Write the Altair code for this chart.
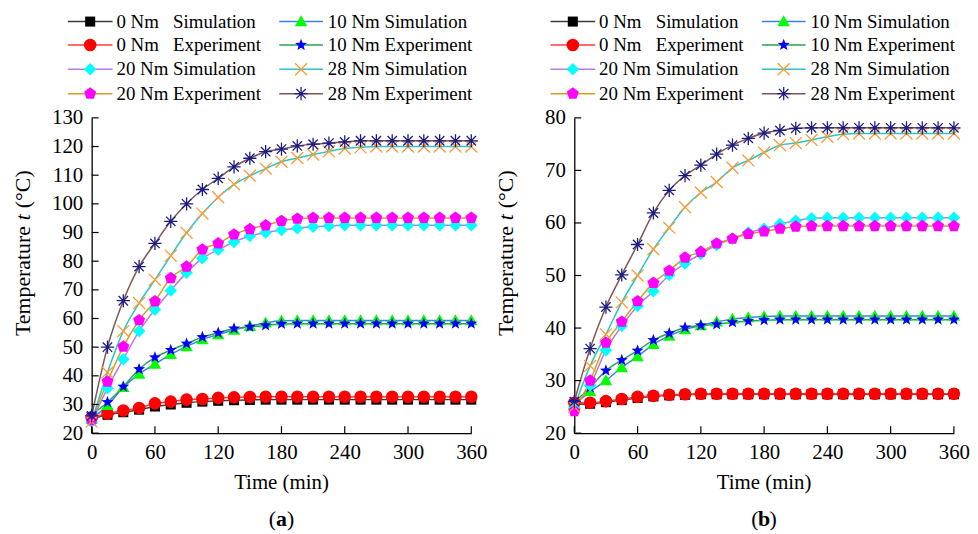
import altair as alt
import pandas as pd

TIME = list(range(0, 361, 15))

SERIES = ["0 Nm Simulation", "0 Nm Experiment", "10 Nm Simulation", "10 Nm Experiment",
          "20 Nm Simulation", "20 Nm Experiment", "28 Nm Simulation", "28 Nm Experiment"]

LEGEND_LABELS = {
    "0 Nm Simulation": "0\u00a0Nm\u00a0\u00a0\u00a0Simulation",
    "0 Nm Experiment": "0\u00a0Nm\u00a0\u00a0\u00a0Experiment",
    "10 Nm Simulation": "10 Nm Simulation",
    "10 Nm Experiment": "10 Nm Experiment",
    "20 Nm Simulation": "20 Nm Simulation",
    "20 Nm Experiment": "20 Nm Experiment",
    "28 Nm Simulation": "28 Nm Simulation",
    "28 Nm Experiment": "28 Nm Experiment",
}
# legend grid: (column, row)
LEGEND_POS = {
    "0 Nm Simulation": (0, 0), "0 Nm Experiment": (0, 1),
    "20 Nm Simulation": (0, 2), "20 Nm Experiment": (0, 3),
    "10 Nm Simulation": (1, 0), "10 Nm Experiment": (1, 1),
    "28 Nm Simulation": (1, 2), "28 Nm Experiment": (1, 3),
}

# ---- panel (a) ----
A_0SIM = [25.0, 26.4, 27.3, 28.2, 29.3, 30.0, 30.6, 31.0, 31.3, 31.5, 31.6, 31.7, 31.7,
          31.7, 31.7, 31.7, 31.7, 31.7, 31.7, 31.7, 31.7, 31.7, 31.7, 31.7, 31.7]
A_0EXP = [25.5, 26.8, 27.9, 28.8, 30.4, 31.0, 31.7, 31.9, 32.3, 32.5, 32.6, 32.7, 32.7,
          32.7, 32.7, 32.7, 32.7, 32.7, 32.7, 32.7, 32.7, 32.7, 32.7, 32.7, 32.7]
A_10SIM = [25.0, 29.7, 36.0, 40.6, 44.1, 47.5, 50.2, 52.7, 54.4, 56.0, 57.3, 58.5, 59.2,
           59.3, 59.3, 59.3, 59.3, 59.3, 59.3, 59.3, 59.3, 59.3, 59.3, 59.3, 59.3]
A_10EXP = [26.5, 30.8, 36.2, 42.3, 46.4, 49.0, 51.2, 53.5, 55.0, 56.5, 57.1, 57.6, 58.1,
           58.2, 58.2, 58.2, 58.2, 58.2, 58.2, 58.2, 58.2, 58.2, 58.2, 58.2, 58.2]
A_20SIM = [24.0, 35.7, 45.8, 55.6, 63.1, 69.8, 76.0, 81.0, 84.0, 86.7, 88.8, 90.0, 90.9,
           91.5, 92.0, 92.3, 92.5, 92.5, 92.5, 92.5, 92.5, 92.5, 92.5, 92.5, 92.5]
A_20EXP = [24.5, 38.0, 50.2, 59.4, 66.0, 74.1, 78.1, 84.1, 86.2, 89.3, 91.2, 92.5, 94.0,
           94.8, 95.1, 95.1, 95.1, 95.1, 95.1, 95.1, 95.1, 95.1, 95.1, 95.1, 95.1]
A_28SIM = [24.0, 41.2, 55.6, 65.4, 73.5, 81.9, 89.9, 96.6, 102.3, 106.8, 109.8, 112.3, 114.7,
           116.0, 117.2, 118.3, 119.3, 119.7, 120.0, 120.0, 120.0, 120.0, 120.0, 120.0, 120.0]
A_28EXP = [26.0, 50.0, 66.2, 78.1, 86.2, 93.9, 100.0, 105.0, 108.9, 112.9, 115.9, 118.2, 119.1,
           120.2, 120.8, 121.2, 121.6, 122.0, 122.0, 122.0, 122.0, 122.0, 122.0, 122.0, 122.0]

# ---- panel (b) ----
B_0SIM = [25.5, 25.6, 25.9, 26.3, 26.7, 27.0, 27.2, 27.3, 27.4, 27.4, 27.4, 27.4, 27.4,
          27.4, 27.4, 27.4, 27.4, 27.4, 27.4, 27.4, 27.4, 27.4, 27.4, 27.4, 27.4]
B_0EXP = [25.8, 25.8, 26.1, 26.5, 26.9, 27.1, 27.3, 27.4, 27.5, 27.5, 27.5, 27.5, 27.5,
          27.5, 27.5, 27.5, 27.5, 27.5, 27.5, 27.5, 27.5, 27.5, 27.5, 27.5, 27.5]
B_10SIM = [25.5, 27.9, 30.0, 32.5, 34.6, 36.9, 38.5, 39.7, 40.5, 41.2, 41.7, 42.0, 42.2,
           42.3, 42.3, 42.3, 42.3, 42.3, 42.3, 42.3, 42.3, 42.3, 42.3, 42.3, 42.3]
B_10EXP = [25.9, 28.7, 31.9, 33.9, 35.7, 37.7, 39.0, 40.1, 40.5, 40.7, 41.1, 41.3, 41.5,
           41.6, 41.6, 41.6, 41.6, 41.6, 41.6, 41.6, 41.6, 41.6, 41.6, 41.6, 41.6]
B_20SIM = [25.0, 29.1, 35.8, 40.4, 44.2, 47.0, 50.1, 52.3, 54.1, 55.8, 57.0, 58.2, 58.9,
           59.8, 60.4, 60.9, 61.0, 61.0, 61.0, 61.0, 61.0, 61.0, 61.0, 61.0, 61.0]
B_20EXP = [24.2, 30.0, 37.2, 41.2, 45.1, 48.6, 50.9, 53.4, 54.5, 56.1, 57.0, 57.9, 58.4,
           58.9, 59.3, 59.4, 59.4, 59.4, 59.4, 59.4, 59.4, 59.4, 59.4, 59.4, 59.4]
B_28SIM = [25.0, 32.8, 38.8, 44.9, 50.0, 55.0, 59.1, 63.0, 65.8, 67.8, 70.5, 71.9, 73.4,
           74.8, 75.2, 75.8, 76.4, 76.9, 77.0, 77.0, 77.0, 77.0, 77.0, 77.0, 77.0]
B_28EXP = [26.0, 36.1, 44.0, 50.1, 55.9, 61.9, 66.2, 69.0, 71.0, 73.1, 74.8, 76.1, 77.1,
           77.6, 78.0, 78.1, 78.1, 78.1, 78.1, 78.1, 78.1, 78.1, 78.1, 78.1, 78.1]

X_TICKS = [0, 60, 120, 180, 240, 300, 360]
A_Y_TICKS = [20, 30, 40, 50, 60, 70, 80, 90, 100, 110, 120, 130]
B_Y_TICKS = [20, 30, 40, 50, 60, 70, 80]

LINE_COLORS = ["#3a3a3a", "#ff3b3b", "#3a80e6", "#2e9e5b",
               "#b47ee0", "#d4a020", "#2cc4c4", "#7d5656"]
MARKER_COLORS = ["#000000", "#ff0000", "#00ff00", "#0000ff",
                 "#00ffff", "#ff00ff", "#ff9933", "#1c1c80"]
SHAPES = [
    "M-0.8,-0.8L0.8,-0.8L0.8,0.8L-0.8,0.8Z",
    "circle",
    "M0,-1L1,0.75L-1,0.75Z",
    "M0,-1L0.247,-0.34L0.951,-0.309L0.399,0.13L0.588,0.809L0,0.42L-0.588,0.809L-0.399,0.13L-0.951,-0.309L-0.247,-0.34Z",
    "M0,-1L1,0L0,1L-1,0Z",
    "M0,-1L0.951,-0.309L0.588,0.809L-0.588,0.809L-0.951,-0.309Z",
    "M-0.95,-0.95L0.95,0.95M-0.95,0.95L0.95,-0.95",
    "M-1.05,0L1.05,0M0,-1.05L0,1.05M-0.75,-0.75L0.75,0.75M-0.75,0.75L0.75,-0.75",
]
OPEN_SERIES = ["28 Nm Simulation", "28 Nm Experiment"]
FILLED_SERIES = [s for s in SERIES if s not in OPEN_SERIES]

W, H = 382.5, 317.7
FONT = "Liberation Serif"

color_sc = alt.Scale(domain=SERIES, range=LINE_COLORS)
fill_sc = alt.Scale(domain=SERIES, range=MARKER_COLORS)
stroke_sc = alt.Scale(domain=SERIES, range=MARKER_COLORS)
shape_sc = alt.Scale(domain=SERIES, range=SHAPES)

# legend layout (pixel offsets relative to the plot area)
ROW_Y = [-97, -73.4, -49, -24.4]
COL_LINE = [(-24, 21), (189, 233)]
COL_MARK = [-1.5, 211]
COL_TEXT = [25, 238]
leg_rows = []
for s in SERIES:
    c, r = LEGEND_POS[s]
    leg_rows.append({"series": s, "label": LEGEND_LABELS[s],
                     "lx1": COL_LINE[c][0], "lx2": COL_LINE[c][1],
                     "mx": COL_MARK[c], "tx": COL_TEXT[c], "ly": ROW_Y[r]})
LEG = pd.DataFrame(leg_rows)
ONE = pd.DataFrame({"k": [0]})


def panel(series_values, ymax, yticks, tag):
    rows = []
    for name, vals in zip(SERIES, series_values):
        for t, v in zip(TIME, vals):
            rows.append({"time": t, "temp": v, "series": name})
    df = pd.DataFrame(rows)
    xsc = alt.Scale(domain=[0, 360], nice=False, zero=False)
    ysc = alt.Scale(domain=[20, ymax], nice=False, zero=False)
    xax = alt.Axis(values=X_TICKS, title=None, labelFlush=False, labelPadding=9)
    yax = alt.Axis(values=yticks, title=None, labelPadding=9)

    def X(f):
        return alt.X(f, scale=xsc, axis=xax, title=None)

    def Y(f):
        return alt.Y(f, scale=ysc, axis=yax, title=None)

    base = alt.Chart(df)
    lines = base.mark_line(interpolate="monotone", strokeWidth=1.5).encode(
        x=X("time:Q"), y=Y("temp:Q"),
        color=alt.Color("series:N", scale=color_sc, legend=None),
    )
    pts_f = base.transform_filter(
        alt.FieldOneOfPredicate(field="series", oneOf=FILLED_SERIES)
    ).mark_point(filled=True, opacity=1, size=160, strokeWidth=0).encode(
        x=X("time:Q"), y=Y("temp:Q"),
        shape=alt.Shape("series:N", scale=shape_sc, legend=None),
        fill=alt.Fill("series:N", scale=fill_sc, legend=None),
    )
    pts_o = base.transform_filter(
        alt.FieldOneOfPredicate(field="series", oneOf=OPEN_SERIES)
    ).mark_point(filled=False, opacity=1, size=160, strokeWidth=1.3).encode(
        x=X("time:Q"), y=Y("temp:Q"),
        shape=alt.Shape("series:N", scale=shape_sc, legend=None),
        stroke=alt.Stroke("series:N", scale=stroke_sc, legend=None),
    )
    ytick = alt.Chart(pd.DataFrame({"temp": yticks})).mark_rule(color="black", strokeWidth=1.2).encode(
        y=Y("temp:Q"), x=alt.value(0), x2=alt.value(7))
    xtick = alt.Chart(pd.DataFrame({"time": X_TICKS})).mark_rule(color="black", strokeWidth=1.2).encode(
        x=X("time:Q"), y=alt.value(H), y2=alt.value(H - 7))

    lg = alt.Chart(LEG)
    leg_line = lg.mark_rule(strokeWidth=1.5).encode(
        x=alt.X("lx1:Q", scale=None), x2="lx2:Q", y=alt.Y("ly:Q", scale=None),
        color=alt.Color("series:N", scale=color_sc, legend=None))
    leg_pf = lg.transform_filter(
        alt.FieldOneOfPredicate(field="series", oneOf=FILLED_SERIES)
    ).mark_point(filled=True, opacity=1, size=160, strokeWidth=0).encode(
        x=alt.X("mx:Q", scale=None), y=alt.Y("ly:Q", scale=None),
        shape=alt.Shape("series:N", scale=shape_sc, legend=None),
        fill=alt.Fill("series:N", scale=fill_sc, legend=None))
    leg_po = lg.transform_filter(
        alt.FieldOneOfPredicate(field="series", oneOf=OPEN_SERIES)
    ).mark_point(filled=False, opacity=1, size=160, strokeWidth=1.3).encode(
        x=alt.X("mx:Q", scale=None), y=alt.Y("ly:Q", scale=None),
        shape=alt.Shape("series:N", scale=shape_sc, legend=None),
        stroke=alt.Stroke("series:N", scale=stroke_sc, legend=None))
    leg_txt = lg.mark_text(align="left", baseline="middle", font=FONT, fontSize=19, color="black").encode(
        x=alt.X("tx:Q", scale=None), y=alt.Y("ly:Q", scale=None), text="label:N")

    one = alt.Chart(ONE)
    tcy = 100
    yt1 = one.mark_text(text="Temperature", angle=270, align="right", baseline="alphabetic",
                        font=FONT, fontSize=22, color="black").encode(x=alt.value(-62), y=alt.value(tcy + 9))
    yt2 = one.mark_text(text="t", angle=270, align="center", baseline="alphabetic", fontStyle="italic",
                        font=FONT, fontSize=22, color="black").encode(x=alt.value(-62), y=alt.value(tcy))
    yt3 = one.mark_text(text="(\u00b0C)", angle=270, align="left", baseline="alphabetic",
                        font=FONT, fontSize=22, color="black").encode(x=alt.value(-62), y=alt.value(tcy - 9))
    xt = one.mark_text(text="Time (min)", align="center", baseline="middle",
                       font=FONT, fontSize=21, color="black").encode(x=alt.value(W / 2), y=alt.value(H + 50))
    tg1 = one.mark_text(text="(", align="right", baseline="middle", font=FONT, fontSize=22,
                        color="black").encode(x=alt.value(W / 2 - 5.5), y=alt.value(H + 87))
    tg2 = one.mark_text(text=tag, align="center", baseline="middle", font=FONT, fontSize=22,
                        fontWeight="bold", color="black").encode(x=alt.value(W / 2), y=alt.value(H + 87))
    tg3 = one.mark_text(text=")", align="left", baseline="middle", font=FONT, fontSize=22,
                        color="black").encode(x=alt.value(W / 2 + 5.5), y=alt.value(H + 87))

    return alt.layer(lines, pts_f, pts_o, ytick, xtick, leg_line, leg_pf, leg_po, leg_txt,
                     yt1, yt2, yt3, xt, tg1, tg2, tg3).properties(width=W, height=H)


pa = panel([A_0SIM, A_0EXP, A_10SIM, A_10EXP, A_20SIM, A_20EXP, A_28SIM, A_28EXP], 130, A_Y_TICKS, "a")
pb = panel([B_0SIM, B_0EXP, B_10SIM, B_10EXP, B_20SIM, B_20EXP, B_28SIM, B_28EXP], 80, B_Y_TICKS, "b")

chart = alt.hconcat(pa, pb, spacing=103.3, bounds="flush").properties(
    padding={"left": 4.3, "top": 2.7, "right": 0, "bottom": 0},
    background="white",
).configure_view(stroke=None).configure_axis(
    domainColor="black", domainWidth=1.3, labelFont=FONT, labelFontSize=21, labelColor="black",
    ticks=False, tickSize=0, grid=False,
)

chart.save("out.html", embed_options={"renderer": "svg", "actions": False})
